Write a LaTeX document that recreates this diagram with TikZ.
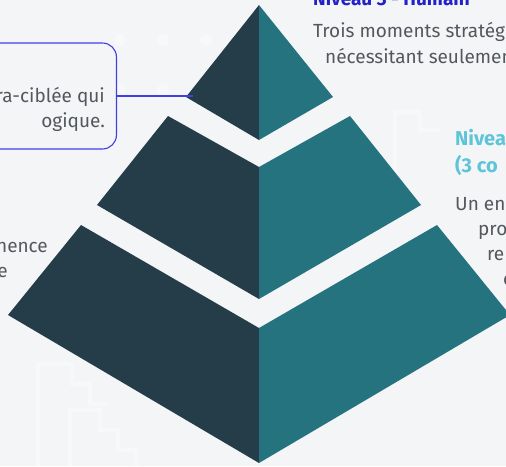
\documentclass[tikz,border=0pt]{standalone}
\usepackage{fontspec}
\setmainfont{Fira Sans}
\definecolor{bgc}{HTML}{F4F5F7}
\definecolor{slate}{HTML}{243D48}
\definecolor{teal}{HTML}{267380}
\definecolor{royal}{HTML}{2222C8}
\definecolor{sky}{HTML}{5EC4D8}
\definecolor{ink}{HTML}{54585E}
\definecolor{edge}{HTML}{4040E0}
\tikzset{
  leftface/.style={fill=slate, draw=none},
  rightface/.style={fill=teal, draw=none},
  body/.style={text=ink, inner sep=0pt, font=\fontsize{19}{25}\selectfont},
  headdark/.style={text=royal, inner sep=0pt, font=\bfseries\fontsize{19}{25}\selectfont},
  headlight/.style={text=sky, inner sep=0pt, font=\bfseries\fontsize{20}{27}\selectfont},
  callout/.style={draw=edge, line width=1.1pt, rounded corners=14pt, fill=bgc},
  link/.style={draw=edge, line width=1.1pt},
  deco/.style={draw=white, line width=4pt, opacity=0.3},
  dot/.style={fill=white, opacity=0.35}
}
\begin{document}
\begin{tikzpicture}[x=1pt,y=-1pt]
  \useasboundingbox (0,0) rectangle (506,466);
  \fill[bgc] (0,0) rectangle (506,466);

  % faint background ornaments
  \foreach \px in {120,163,206} \fill[dot] (\px,40) circle (6);
  \foreach \px in {120,163} \fill[dot] (\px,90) circle (6);
  \draw[deco] (38,470) -- (38,364) -- (72,364) -- (72,384) -- (90,384) -- (90,404) -- (108,404);
  \draw[deco] (70,470) -- (70,410) -- (100,410) -- (100,430) -- (118,430) -- (118,450) -- (136,450) -- (136,470);
  \draw[deco] (395,200) -- (395,112) -- (420,112) -- (420,130) -- (440,130);

  % pyramid tier 1 (top)
  \coordinate (t1a) at (259,5);
  \coordinate (t1l) at (186,97);
  \coordinate (t1b) at (259,140);
  \coordinate (t1r) at (333,97);
  \fill[leftface] (t1a) -- (t1l) -- (t1b) -- cycle;
  \fill[rightface] (t1a) -- (t1r) -- (t1b) -- cycle;

  % pyramid tier 2
  \fill[leftface] (259,167) -- (168,116) -- (97,205) -- (259,299) -- cycle;
  \fill[rightface] (259,167) -- (350,116) -- (421,205) -- (259,299) -- cycle;

  % pyramid tier 3 (base)
  \fill[leftface] (259,328) -- (81,225) -- (8,315) -- (259,463) -- cycle;
  \fill[rightface] (259,328) -- (437,225) -- (510,315) -- (259,463) -- cycle;

  % callout box for the top tier
  \node[callout, anchor=east, minimum width=260pt, minimum height=106pt] (box) at (117,96) {};
  \node[body, anchor=base east, align=right] (boxtext) at (105,127)
        {ra-ciblée qui\\ogique.};
  \coordinate (tip) at (193,96);
  \draw[link] (box.east) -- (tip);

  % level 3 text
  \node[headdark, anchor=base west] (h3) at (313,5) {Niveau 3 - Humain};
  \node[body, anchor=base west, align=left, font=\fontsize{19}{26}\selectfont] (b3) at (313,63)
        {Trois moments stratég\\\hspace*{12pt}nécessitant seulemen};

  % level 2 text
  \node[headlight, anchor=base west, align=left] (h2) at (455,172)
        {Nivea\\(3 co};
  \node[body, anchor=base west] (b2a) at (455,210) {Un en};
  \node[body, anchor=base west] (b2b) at (478,235) {pro};
  \node[body, anchor=base west] (b2c) at (487,260) {re};
  \node[body, anchor=base west] (b2d) at (503,285) {c};

  % level 1 text
  \node[body, anchor=base east] (b1a) at (48,252) {nence};
  \node[body, anchor=base east] (b1b) at (8,277) {e};
\end{tikzpicture}
\end{document}
